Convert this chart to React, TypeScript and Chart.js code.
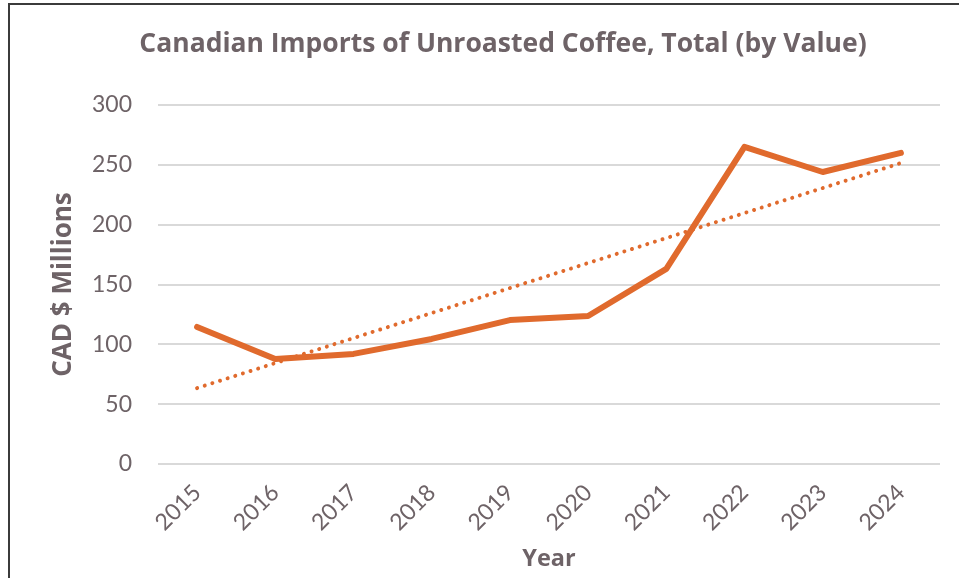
import React, { useEffect, useRef } from "react";
import { Chart, registerables } from "chart.js";

Chart.register(...registerables);

const years = ["2015", "2016", "2017", "2018", "2019", "2020", "2021", "2022", "2023", "2024"];
const imports = [114.5, 87.7, 92, 104.5, 120.3, 123.7, 163, 265, 244, 260];
const yTicks = [0, 50, 100, 150, 200, 250, 300];
const chartTitle = "Canadian Imports of Unroasted Coffee, Total (by Value)";

const TEXT = "#6e6367";
const LINE = "#e06a2d";
const FONT = "Lato, 'Open Sans', sans-serif";
const BOLD = "'Open Sans', Lato, sans-serif";

function linearTrend(vals: number[]): number[] {
  const n = vals.length;
  const mx = (n - 1) / 2;
  const my = vals.reduce((a, b) => a + b, 0) / n;
  let sxy = 0;
  let sxx = 0;
  vals.forEach((v, i) => {
    sxy += (i - mx) * (v - my);
    sxx += (i - mx) * (i - mx);
  });
  const slope = sxy / sxx;
  return vals.map((_, i) => my + slope * (i - mx));
}

const centeredTitle = {
  id: "centeredTitle",
  afterDraw(chart: any) {
    const ctx = chart.ctx;
    ctx.save();
    ctx.fillStyle = TEXT;
    ctx.font = `bold 26.5px ${BOLD}`;
    ctx.textAlign = "center";
    ctx.textBaseline = "middle";
    ctx.fillText(chartTitle, chart.width / 2, 39);
    ctx.restore();
  },
};

export default function App() {
  const ref = useRef<HTMLCanvasElement | null>(null);

  useEffect(() => {
    document.body.style.overflow = "hidden";
    const canvas = ref.current!;
    const chart = new Chart(canvas, {
      type: "line",
      data: {
        labels: years,
        datasets: [
          {
            label: "Total",
            data: imports,
            borderColor: LINE,
            backgroundColor: LINE,
            borderWidth: 6,
            pointRadius: 0,
            borderJoinStyle: "round",
            borderCapStyle: "round",
            tension: 0,
            order: 1,
          },
          {
            label: "Linear (Total)",
            data: linearTrend(imports),
            borderColor: LINE,
            borderWidth: 4,
            borderDash: [0.01, 8],
            borderCapStyle: "round",
            pointRadius: 0,
            order: 2,
          },
        ],
      },
      plugins: [centeredTitle],
      options: {
        responsive: false,
        animation: false,
        layout: { padding: { left: 0, right: 56, top: 100, bottom: 0 } },
        plugins: {
          legend: { display: false },
          tooltip: { enabled: false },
          title: { display: false },
        },
        scales: {
          x: {
            offset: true,
            grid: { display: false, drawTicks: false },
            border: { display: false },
            ticks: {
              color: TEXT,
              font: { family: FONT, size: 23 },
              maxRotation: 45,
              minRotation: 45,
              padding: 15,
            },
            title: {
              display: true,
              text: "Year",
              color: TEXT,
              font: { family: BOLD, size: 23.5, weight: "bold" },
              padding: { top: 0, bottom: 7 },
            },
            afterFit: (scale: any) => {
              scale.height = 116;
            },
          },
          y: {
            min: 0,
            max: 300,
            afterBuildTicks: (scale: any) => {
              scale.ticks = yTicks.map((v) => ({ value: v }));
            },
            grid: { color: "#d9d9d9", lineWidth: 2, drawTicks: false },
            border: { display: false },
            ticks: {
              color: TEXT,
              font: { family: FONT, size: 23 },
              padding: 26,
            },
            title: {
              display: true,
              text: "CAD $ Millions",
              color: TEXT,
              font: { family: BOLD, size: 26, weight: "bold" },
              padding: { top: 38, bottom: 0 },
            },
            afterFit: (scale: any) => {
              scale.width = 148;
            },
          },
        },
      },
    });
    return () => chart.destroy();
  }, []);

  return (
    <div style={{ position: "fixed", left: 0, top: 0, width: 959, height: 578, overflow: "hidden", background: "#fff" }}>
      <div
        style={{
          position: "absolute",
          left: 8,
          top: 3,
          width: 1000,
          height: 620,
          borderLeft: "2px solid #3b3b3b",
          borderTop: "2px solid #3b3b3b",
          background: "#fff",
        }}
      >
        <canvas ref={ref} width={986} height={575} style={{ display: "block" }} />
      </div>
    </div>
  );
}
